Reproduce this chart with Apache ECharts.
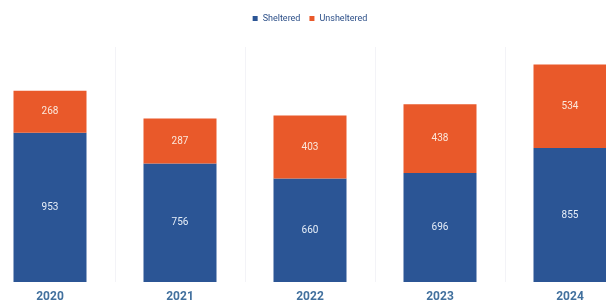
<!DOCTYPE html>
<html>
<head>
<meta charset="utf-8">
<script src="https://cdn.jsdelivr.net/npm/echarts@6/dist/echarts.min.js"></script>
<style>
  html, body { margin: 0; padding: 0; background: #fff; overflow: hidden; }
  #wrap { width: 606px; height: 303px; overflow: hidden; position: relative; }
  /* plot is a bit wider than the window, last bar is cut at the right edge */
  #chart { width: 650px; height: 303px; position: absolute; left: -15px; top: 0; }
</style>
</head>
<body>
<div id="wrap"><div id="chart"></div></div>
<script>
const years = ['2020', '2021', '2022', '2023', '2024']
const sheltered = [953, 756, 660, 696, 855]
const unsheltered = [268, 287, 403, 438, 534]

const blue = '#2b5595'
const orange = '#e9592a'

const chart = echarts.init(document.getElementById('chart'))

chart.setOption({
  animation: false,
  legend: {
    data: ['Sheltered', 'Unsheltered'],
    top: 9,
    left: 'center',
    itemWidth: 5,
    itemHeight: 5,
    itemGap: 9,
    icon: 'rect',
    textStyle: {
      color: '#2c4f88',
      fontSize: 9,
      fontFamily: 'Roboto'
    }
  },
  grid: {
    top: 47,
    bottom: 19,
    left: 0,
    right: 0
  },
  xAxis: {
    type: 'category',
    data: years,
    axisLine: { show: false },
    axisTick: { show: false },
    splitLine: {
      show: true,
      lineStyle: { color: '#f3f3f7', width: 1 }
    },
    axisLabel: {
      color: '#41709e',
      fontSize: 12,
      fontWeight: 'bold',
      fontFamily: 'Roboto',
      margin: 9
    }
  },
  yAxis: {
    type: 'value',
    min: 0,
    max: 1500,
    show: false,
    splitLine: { show: false }
  },
  series: [{
    name: 'Sheltered',
    type: 'bar',
    stack: 'total',
    barWidth: 73,
    data: sheltered,
    itemStyle: { color: blue },
    label: {
      show: true,
      position: 'inside',
      color: '#e6eef8',
      fontSize: 10,
      fontFamily: 'Roboto'
    }
  }, {
    name: 'Unsheltered',
    type: 'bar',
    stack: 'total',
    barWidth: 73,
    data: unsheltered,
    itemStyle: { color: orange },
    label: {
      show: true,
      position: 'inside',
      color: '#fbe8dc',
      fontSize: 10,
      fontFamily: 'Roboto'
    }
  }]
})
</script>
</body>
</html>
